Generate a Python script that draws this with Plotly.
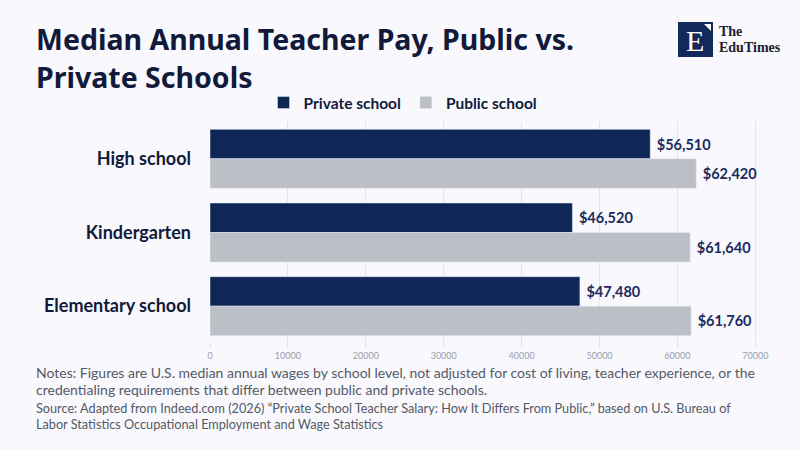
import plotly.graph_objects as go

levels = ["High school", "Kindergarten", "Elementary school"]
private_pay = [56510, 46520, 47480]
public_pay = [62420, 61640, 61760]
tick_vals = [0, 10000, 20000, 30000, 40000, 50000, 60000, 70000]

NAVY = "#0f2757"
GRAY = "#bcbfc6"
BG = "#f8f8fd"
INK = "#111a3a"
FONT = "Lato"

# plot area in pixels, used to place the extra texts
L, R, T, B = 210, 760, 122, 343


def px(x):
    return (x - L) / (R - L)


def py(y):
    return (B - y) / (B - T)


fig = go.Figure()

fig.add_trace(go.Bar(
    y=levels, x=private_pay, orientation="h", name="Private school",
    marker_color=NAVY,
    text=[" $" + format(v, ",") for v in private_pay],
    textposition="outside", cliponaxis=False,
    textfont=dict(family=FONT, size=14.5, color="#1b2b5c", weight="bold"),
))
fig.add_trace(go.Bar(
    y=levels, x=public_pay, orientation="h", name="Public school",
    marker_color=GRAY,
    text=[" $" + format(v, ",") for v in public_pay],
    textposition="outside", cliponaxis=False,
    textfont=dict(family=FONT, size=14.5, color="#1b2b5c", weight="bold"),
))

fig.update_layout(
    width=800, height=450,
    paper_bgcolor=BG, plot_bgcolor=BG,
    margin=dict(l=L, r=800 - R, t=T, b=450 - B, autoexpand=False),
    barmode="group", bargap=0.2, bargroupgap=0,
    font=dict(family=FONT),
    showlegend=True,
    legend=dict(
        orientation="h", x=px(403), xanchor="center", y=py(103), yanchor="middle",
        font=dict(family=FONT, size=15.5, color=INK, weight="bold"),
        bgcolor="rgba(0,0,0,0)", itemwidth=30,
    ),
)

fig.update_xaxes(
    range=[0, 70600], tickvals=tick_vals, tickformat="d",
    showgrid=True, gridcolor="#e2e4ec", gridwidth=1,
    zeroline=False, showline=False,
    ticks="outside", ticklen=4, tickcolor="#e2e4ec",
    tickfont=dict(family=FONT, size=9, color="#9a9daa"),
    automargin=False,
)
fig.update_yaxes(
    autorange="reversed", showgrid=False, zeroline=False,
    ticks="", ticklabelstandoff=18, automargin=False,
    tickfont=dict(family=FONT, size=18, color=INK, weight="bold"),
)

# title, two lines
title_lines = ["Median Annual Teacher Pay, Public vs.", "Private Schools"]
for line, mid in zip(title_lines, [38.5, 76.5]):
    fig.add_annotation(
        text=line, xref="paper", yref="paper", x=px(34), y=py(mid),
        xanchor="left", yanchor="middle", showarrow=False,
        font=dict(family="Noto Sans", size=28.5, color=INK, weight="bold"),
    )

# notes and source
notes = ["Notes: Figures are U.S. median annual wages by school level, not adjusted for cost of living, teacher experience, or the",
         "credentialing requirements that differ between public and private schools."]
source = ["Source: Adapted from Indeed.com (2026) \u201cPrivate School Teacher Salary: How It Differs From Public,\u201d based on U.S. Bureau of",
          "Labor Statistics Occupational Employment and Wage Statistics"]
for line, mid in zip(notes, [372, 389]):
    fig.add_annotation(
        text=line, xref="paper", yref="paper", x=px(34), y=py(mid),
        xanchor="left", yanchor="middle", showarrow=False,
        font=dict(family=FONT, size=14, color="#555a66"),
    )
for line, mid in zip(source, [408, 424]):
    fig.add_annotation(
        text=line, xref="paper", yref="paper", x=px(34), y=py(mid),
        xanchor="left", yanchor="middle", showarrow=False,
        font=dict(family=FONT, size=12.7, color="#555a66"),
    )

# logo
fig.add_shape(type="rect", xref="paper", yref="paper",
              x0=px(678), x1=px(713), y0=py(57), y1=py(22),
              fillcolor="#13295a", line_width=0)
fig.add_shape(type="path", xref="paper", yref="paper",
              path="M {a},{b} L {c},{b} L {c},{d} Z".format(
                  a=px(704), c=px(711), b=py(24), d=py(31)),
              fillcolor="white", line_width=0)
fig.add_annotation(text="E", xref="paper", yref="paper",
                   x=px(695), y=py(40), xanchor="center", yanchor="middle",
                   showarrow=False,
                   font=dict(family="Liberation Serif", size=30, color="white"))
for word, mid in zip(["The", "EduTimes"], [32, 47]):
    fig.add_annotation(text=word, xref="paper", yref="paper",
                       x=px(717), y=py(mid), xanchor="left", yanchor="middle",
                       showarrow=False,
                       font=dict(family="Liberation Serif", size=14,
                                 color="#1c1c2c", weight="bold"))

# the page has a default 8px body margin; drop it so the figure sits at 0,0
fig.write_html("out.html", config={"displayModeBar": False},
               post_script="document.body.style.margin='0';")
